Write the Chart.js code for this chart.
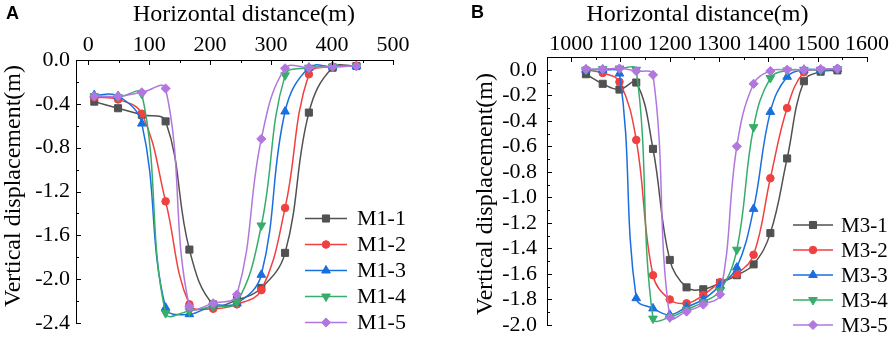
<!DOCTYPE html>
<html><head><meta charset="utf-8">
<script src="https://cdn.jsdelivr.net/npm/chart.js@4.4.0/dist/chart.umd.min.js"></script>
<style>
html,body{margin:0;padding:0;background:#fff;}
#wrap{position:relative;width:892px;height:337px;overflow:hidden;}
.pane{position:absolute;top:0;width:446px;height:337px;}
canvas{display:block;}
</style></head><body>
<div id="wrap">
<div class="pane" style="left:0"><canvas id="cA" width="446" height="337"></canvas></div>
<div class="pane" style="left:446px"><canvas id="cB" width="446" height="337"></canvas></div>
</div>
<script>
// ---------- Panel A data ----------
const distanceA = [10, 49, 88, 127, 166, 205, 244, 284, 323, 362, 401, 440];
const namesA = ['M1-1', 'M1-2', 'M1-3', 'M1-4', 'M1-5'];
const m1_1 = [-0.38, -0.44, -0.50, -0.56, -1.73, -2.23, -2.19, -2.08, -1.76, -0.48, -0.07, -0.055];
const m1_2 = [-0.34, -0.36, -0.49, -1.29, -2.23, -2.27, -2.23, -2.10, -1.35, -0.13, -0.06, -0.055];
const m1_3 = [-0.32, -0.33, -0.58, -2.26, -2.32, -2.24, -2.22, -1.96, -0.47, -0.07, -0.06, -0.055];
const m1_4 = [-0.33, -0.34, -0.31, -2.31, -2.29, -2.25, -2.21, -1.51, -0.14, -0.07, -0.06, -0.055];
const m1_5 = [-0.33, -0.33, -0.295, -0.26, -2.25, -2.22, -2.14, -0.72, -0.076, -0.07, -0.06, -0.055];
const xTicksA = [0, 100, 200, 300, 400, 500];
const xMinorA = [50, 150, 250, 350, 450];
const yTicksA = [0, -0.4, -0.8, -1.2, -1.6, -2.0, -2.4];
const yMinorA = [-0.2, -0.6, -1.0, -1.4, -1.8, -2.2];

// ---------- Panel B data ----------
const distanceB = [1030, 1064, 1098, 1132, 1166, 1200, 1234, 1268, 1302, 1336, 1370, 1404, 1438, 1472, 1506, 1540];
const namesB = ['M3-1', 'M3-2', 'M3-3', 'M3-4', 'M3-5'];
const m3_1 = [-0.035, -0.11, -0.155, -0.10, -0.62, -1.49, -1.705, -1.72, -1.67, -1.61, -1.525, -1.28, -0.695, -0.09, -0.015, -0.005];
const m3_2 = [0.0, -0.025, -0.095, -0.55, -1.61, -1.80, -1.83, -1.765, -1.665, -1.60, -1.45, -0.85, -0.30, -0.02, 0.0, 0.005];
const m3_3 = [0.0, 0.0, -0.03, -1.79, -1.87, -1.92, -1.86, -1.80, -1.69, -1.55, -1.09, -0.33, -0.055, 0.0, 0.0, 0.005];
const m3_4 = [0.0, 0.005, 0.01, 0.0, -1.95, -1.94, -1.88, -1.82, -1.73, -1.41, -0.45, -0.065, -0.005, 0.0, 0.0, 0.005];
const m3_5 = [0.005, 0.005, 0.01, -0.01, -0.04, -1.94, -1.895, -1.84, -1.76, -0.60, -0.11, -0.01, 0.0, 0.0, 0.005, 0.01];
const xTicksB = [1000, 1100, 1200, 1300, 1400, 1500, 1600];
const xMinorB = [1050, 1150, 1250, 1350, 1450, 1550];
const yTicksB = [0, -0.2, -0.4, -0.6, -0.8, -1.0, -1.2, -1.4, -1.6, -1.8, -2.0];
const yMinorB = [-0.1, -0.3, -0.5, -0.7, -0.9, -1.1, -1.3, -1.5, -1.7, -1.9];

const xTitle = 'Horizontal distance(m)';
const yTitle = 'Vertical displacement(m)';

// ---------- styles ----------
const SERIF = "'Liberation Serif', 'Times New Roman', serif";
Chart.defaults.font.family = SERIF;
Chart.defaults.font.size = 22;
Chart.defaults.color = '#000';
const colors = ['#515151', '#F14040', '#1A6FDF', '#37AD6B', '#B177DE'];
const markers = [
  {pointStyle: 'rect', r: 5, rot: 0},
  {pointStyle: 'circle', r: 3.8, rot: 0},
  {pointStyle: 'triangle', r: 5, rot: 0},
  {pointStyle: 'triangle', r: 5, rot: 180},
  {pointStyle: 'rectRot', r: 4.6, rot: 0}
];

function fmtY(v) { return Math.abs(v) < 1e-9 ? '0.0' : v.toFixed(1); }
function fmtX(v) { return String(Math.round(v)); }

const decor = {
  id: 'decor',
  afterDraw(chart, args, o) {
    const ctx = chart.ctx, xs = chart.scales.x, ys = chart.scales.y, a = chart.chartArea;
    ctx.save();
    ctx.strokeStyle = '#000';
    ctx.lineWidth = 1;
    ctx.beginPath();
    const tick = (vals, len, horiz) => vals.forEach(v => {
      if (horiz) {
        const px = Math.round(xs.getPixelForValue(v)) + 0.5;
        ctx.moveTo(px, a.top); ctx.lineTo(px, a.top + len);
      } else {
        const py = Math.round(ys.getPixelForValue(v)) + 0.5;
        ctx.moveTo(a.left, py); ctx.lineTo(a.left + len, py);
      }
    });
    tick(o.xMajor, 5, true); tick(o.xMinor, 3, true);
    tick(o.yMajor, 5, false); tick(o.yMinor, 3, false);
    ctx.stroke();

    ctx.fillStyle = '#000';
    ctx.textAlign = 'center';
    ctx.textBaseline = 'middle';
    ctx.font = '24px ' + SERIF;
    ctx.fillText(o.xTitle, o.xTitleX, o.xTitleY);
    ctx.save();
    ctx.translate(o.yTitleX, o.yTitleY);
    ctx.rotate(-Math.PI / 2);
    ctx.fillText(o.yTitle, 0, 0);
    ctx.restore();

    ctx.font = 'bold 18px "Liberation Sans", Arial, sans-serif';
    ctx.textAlign = 'left';
    ctx.fillText(o.letter, o.letterX, o.letterY);

    // legend
    const L = o.legend;
    ctx.font = L.font + 'px ' + SERIF;
    chart.data.datasets.forEach((ds, i) => {
      const yy = L.y0 + i * L.dy;
      ctx.strokeStyle = ds.borderColor;
      ctx.lineWidth = ds.borderWidth;
      ctx.beginPath();
      ctx.moveTo(L.x1, yy); ctx.lineTo(L.x2, yy);
      ctx.stroke();
      ctx.fillStyle = ds.pointBackgroundColor;
      ctx.strokeStyle = ds.pointBorderColor;
      ctx.lineWidth = 1;
      Chart.helpers.drawPoint(ctx, {pointStyle: ds.pointStyle, rotation: ds.pointRotation, radius: ds.pointRadius, borderWidth: 1}, (L.x1 + L.x2) / 2, yy);
      ctx.fillStyle = '#000';
      ctx.textAlign = 'left';
      ctx.textBaseline = 'middle';
      ctx.fillText(ds.label, L.tx, yy + 1);
    });
    ctx.restore();
  }
};

function build(id, cfg) {
  const datasets = cfg.series.map((vals, i) => ({
    label: cfg.names[i],
    data: vals.map((v, j) => ({x: cfg.xs[j], y: v})),
    borderColor: colors[i],
    backgroundColor: colors[i],
    pointBackgroundColor: colors[i],
    pointBorderColor: colors[i],
    borderWidth: 1.5,
    pointStyle: markers[i].pointStyle,
    pointRadius: markers[i].r,
    pointRotation: markers[i].rot,
    pointBorderWidth: 1,
    tension: 0.4,
    order: 5 - i
  }));
  const tickFont = {family: SERIF, size: 22, style: 'normal', weight: 'normal', lineHeight: 1.2};
  return new Chart(document.getElementById(id), {
    type: 'line',
    data: {datasets},
    options: {
      responsive: false,
      animation: false,
      devicePixelRatio: 1,
      layout: {padding: cfg.pad},
      plugins: {legend: {display: false}, tooltip: {enabled: false}, decor: cfg.decor},
      scales: {
        x: {
          type: 'linear', position: 'top', min: cfg.xMin, max: cfg.xMax,
          grid: {display: true, drawOnChartArea: false, drawTicks: false},
          border: {display: true, color: '#000', width: 1},
          ticks: {autoSkip: false, maxRotation: 0, minRotation: 0, padding: cfg.xPad, color: '#000', font: tickFont, callback: v => fmtX(v)},
          afterBuildTicks: s => { s.ticks = cfg.xTicks.map(v => ({value: v})); },
          afterFit: s => { s.height = cfg.top; s.paddingLeft = 0; s.paddingRight = 0; }
        },
        y: {
          type: 'linear', position: 'left', min: cfg.yMin, max: cfg.yMax,
          grid: {display: true, drawOnChartArea: false, drawTicks: false},
          border: {display: true, color: '#000', width: 1},
          ticks: {autoSkip: false, padding: cfg.yPad, color: '#000', font: tickFont, callback: v => fmtY(v)},
          afterBuildTicks: s => { s.ticks = cfg.yTicks.map(v => ({value: v})); },
          afterFit: s => { s.width = cfg.left; s.paddingTop = 0; s.paddingBottom = 0; }
        }
      }
    },
    plugins: [decor]
  });
}

build('cA', {
  xs: distanceA, names: namesA, series: [m1_1, m1_2, m1_3, m1_4, m1_5],
  xMin: -20, xMax: 500, yMin: -2.4, yMax: 0,
  xTicks: xTicksA, yTicks: yTicksA,
  pad: {left: 0, top: 0, right: 53, bottom: 14},
  top: 60, left: 76, xPad: 2, yPad: 6,
  decor: {
    xMajor: xTicksA, xMinor: xMinorA, yMajor: yTicksA, yMinor: yMinorA,
    xTitle, yTitle, xTitleX: 244, xTitleY: 15, yTitleX: 14, yTitleY: 186,
    letter: 'A', letterX: 6, letterY: 14,
    legend: {x1: 305, x2: 347, tx: 357, y0: 218.5, dy: 26, font: 22}
  }
});

build('cB', {
  xs: distanceB, names: namesB, series: [m3_1, m3_2, m3_3, m3_4, m3_5],
  xMin: 951, xMax: 1600, yMin: -2.0, yMax: 0.1,
  xTicks: xTicksB, yTicks: yTicksB,
  pad: {left: 0, top: 0, right: 25, bottom: 12},
  top: 57, left: 101, xPad: 0, yPad: 10,
  decor: {
    xMajor: xTicksB, xMinor: xMinorB, yMajor: yTicksB, yMinor: yMinorB,
    xTitle, yTitle, xTitleX: 251.5, xTitleY: 15, yTitleX: 40, yTitleY: 194,
    letter: 'B', letterX: 25, letterY: 13,
    legend: {x1: 347, x2: 387, tx: 395, y0: 225, dy: 25, font: 21}
  }
});
</script>
</body></html>
